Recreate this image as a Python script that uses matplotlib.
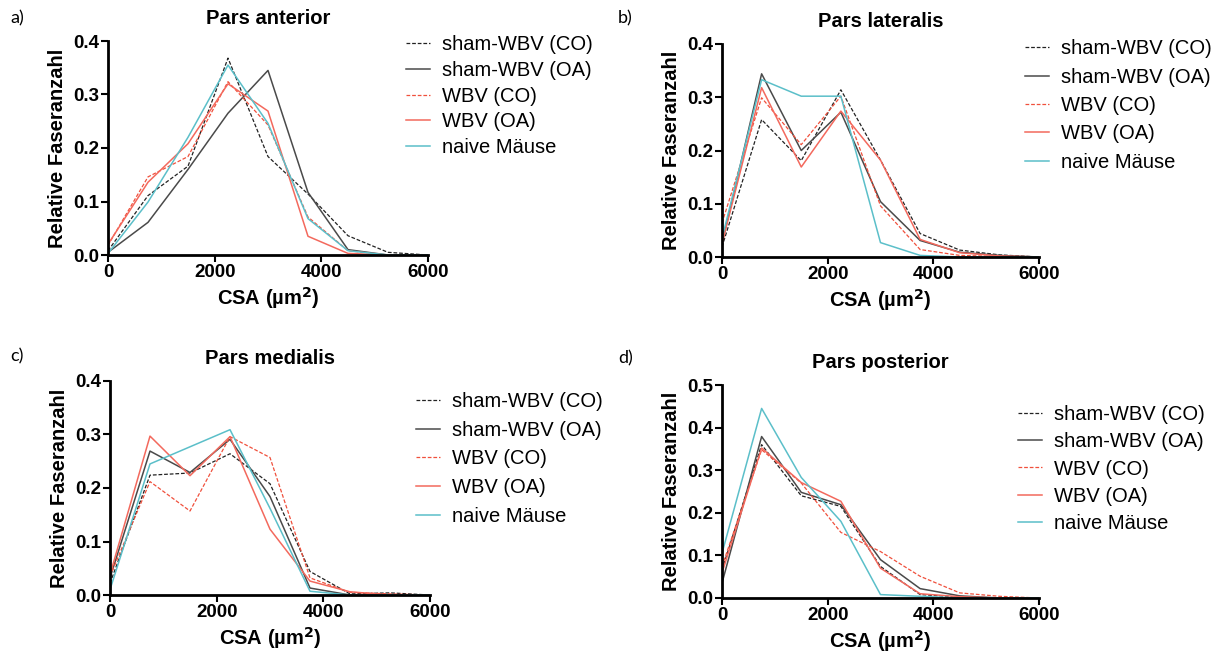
import numpy as np
import matplotlib
matplotlib.use('Agg')
import matplotlib.pyplot as plt

plt.rcParams['font.family'] = ['Liberation Sans', 'DejaVu Sans']

# bin centres (CSA in µm²)
csa = [0, 750, 1500, 2250, 3000, 3750, 4500, 5250, 6000]

groups = ['sham-WBV (CO)', 'sham-WBV (OA)', 'WBV (CO)', 'WBV (OA)', 'naive Mäuse']

# Pars anterior
ant_sham_co = [0.008, 0.111, 0.166, 0.368, 0.184, 0.114, 0.036, 0.005, 0.0]
ant_sham_oa = [0.005, 0.061, 0.160, 0.265, 0.345, 0.117, 0.010, 0.0, 0.0]
ant_wbv_co = [0.018, 0.146, 0.184, 0.324, 0.243, 0.071, 0.008, 0.0, 0.0]
ant_wbv_oa = [0.020, 0.136, 0.208, 0.320, 0.269, 0.035, 0.003, 0.0, 0.0]
ant_naive = [0.003, 0.099, 0.220, 0.355, 0.246, 0.068, 0.008, 0.0, 0.0]

# Pars lateralis
lat_sham_co = [0.019, 0.258, 0.181, 0.314, 0.182, 0.044, 0.013, 0.004, 0.0]
lat_sham_oa = [0.025, 0.344, 0.200, 0.272, 0.104, 0.031, 0.009, 0.003, 0.0]
lat_wbv_co = [0.064, 0.299, 0.211, 0.302, 0.096, 0.014, 0.003, 0.001, 0.0]
lat_wbv_oa = [0.025, 0.318, 0.169, 0.274, 0.182, 0.033, 0.008, 0.002, 0.0]
lat_naive = [0.035, 0.333, 0.302, 0.302, 0.027, 0.003, 0.0, 0.0, 0.0]

# Pars medialis
med_sham_co = [0.022, 0.224, 0.228, 0.264, 0.208, 0.044, 0.002, 0.004, 0.0]
med_sham_oa = [0.032, 0.269, 0.229, 0.291, 0.184, 0.013, 0.0, 0.0, 0.0]
med_wbv_co = [0.035, 0.212, 0.157, 0.296, 0.257, 0.032, 0.005, 0.002, 0.0]
med_wbv_oa = [0.038, 0.297, 0.223, 0.296, 0.123, 0.026, 0.006, 0.0, 0.0]
med_naive = [0.010, 0.245, 0.277, 0.309, 0.162, 0.007, 0.0, 0.0, 0.0]

# Pars posterior
post_sham_co = [0.066, 0.360, 0.240, 0.215, 0.074, 0.008, 0.002, 0.0, 0.0]
post_sham_oa = [0.035, 0.379, 0.248, 0.219, 0.090, 0.022, 0.005, 0.0, 0.0]
post_wbv_co = [0.074, 0.348, 0.270, 0.154, 0.109, 0.051, 0.012, 0.004, 0.0]
post_wbv_oa = [0.059, 0.352, 0.271, 0.227, 0.070, 0.010, 0.003, 0.0, 0.0]
post_naive = [0.105, 0.445, 0.283, 0.180, 0.008, 0.004, 0.0, 0.0, 0.0]

styles = [
    dict(color='#222222', ls=(0, (3, 1.5)), lw=0.9),
    dict(color='#4a4a4a', ls='-', lw=1.1),
    dict(color='#f0503c', ls=(0, (3, 1.5)), lw=0.9),
    dict(color='#f3695d', ls='-', lw=1.1),
    dict(color='#5bbfc9', ls='-', lw=1.1),
]

W, H = 1220, 658
fig = plt.figure(figsize=(W / 100, H / 100), dpi=100)


def px_axes(left, right, top, bottom):
    return fig.add_axes([left / W, 1 - bottom / H, (right - left) / W, (bottom - top) / H])


panels = [
    ('Pars anterior', 'a)', (108, 428, 41, 255), 0.4,
     [ant_sham_co, ant_sham_oa, ant_wbv_co, ant_wbv_oa, ant_naive],
     (406, 35.5), 0.33, (10, 18)),
    ('Pars lateralis', 'b)', (722, 1039, 44, 257), 0.4,
     [lat_sham_co, lat_sham_oa, lat_wbv_co, lat_wbv_oa, lat_naive],
     (1025, 39.5), 0.46, (618, 18)),
    ('Pars medialis', 'c)', (110, 430, 381, 595), 0.4,
     [med_sham_co, med_sham_oa, med_wbv_co, med_wbv_oa, med_naive],
     (416, 392), 0.48, (10, 356)),
    ('Pars posterior', 'd)', (722, 1039, 385, 598), 0.5,
     [post_sham_co, post_sham_oa, post_wbv_co, post_wbv_oa, post_naive],
     (1018, 405), 0.41, (618, 358)),
]

for title, tag, box, ymax, series, leg_xy, leg_sp, tag_xy in panels:
    ax = px_axes(*box)
    for vals, name, st in zip(series, groups, styles):
        ax.plot(csa, vals, label=name, **st)
    ax.set_xlim(0, 6000)
    ax.set_ylim(0, ymax)
    ax.set_xticks([0, 2000, 4000, 6000])
    ax.set_yticks(np.arange(0, ymax + 0.01, 0.1))
    ax.yaxis.set_major_formatter(matplotlib.ticker.FormatStrFormatter('%.1f'))
    for s in ['top', 'right']:
        ax.spines[s].set_visible(False)
    for s in ['left', 'bottom']:
        ax.spines[s].set_linewidth(2)
    ax.tick_params(direction='out', length=5, width=1.5, labelsize=13.5, pad=1.5)
    for lab in ax.get_xticklabels() + ax.get_yticklabels():
        lab.set_fontweight('bold')
    ax.set_title(title, fontsize=14.5, fontweight='bold', pad=12)
    ax.set_xlabel('CSA (µm$^\\mathbf{2}$)', fontsize=14.5, fontweight='bold', labelpad=3)
    ax.set_ylabel('Relative Faseranzahl', fontsize=14.5, fontweight='bold', labelpad=4)
    ax.legend(loc='upper left', bbox_to_anchor=(leg_xy[0] / W, 1 - leg_xy[1] / H),
              bbox_transform=fig.transFigure, frameon=False, borderpad=0,
              borderaxespad=0, fontsize=14.5, handlelength=1.2,
              handletextpad=0.6, labelspacing=leg_sp)
    fig.text(tag_xy[0] / W, 1 - tag_xy[1] / H, tag, fontsize=13,
             family=['Lato', 'DejaVu Sans'], va='center', ha='left')

fig.savefig('out.png', dpi=100)
